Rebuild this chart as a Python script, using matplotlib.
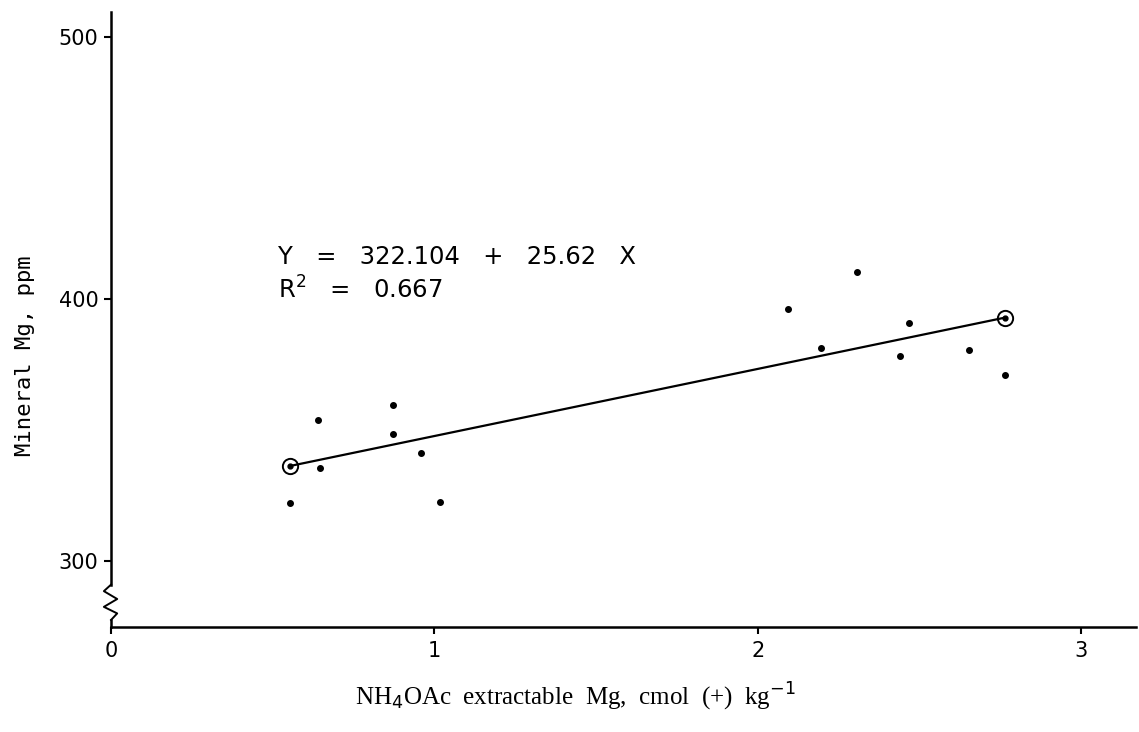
import matplotlib
matplotlib.use('Agg')
import matplotlib.pyplot as plt

# NH4OAc extractable Mg (cmol(+)/kg) vs mineral Mg (ppm)
nh4_mg = [0.553, 0.640, 0.645, 0.872, 0.873, 0.957, 1.016,
          2.093, 2.194, 2.306, 2.441, 2.467, 2.654, 2.765]
mineral_mg = [322.3, 353.8, 335.6, 348.5, 359.4, 341.4, 322.4,
              396.1, 381.5, 410.2, 378.3, 390.9, 380.6, 371.0]

# ends of the fitted line, marked with circles
fit_x = [0.554, 2.763]
intercept = 322.104
slope = 25.62
r2 = 0.667

fit_y = [intercept + slope * v for v in fit_x]

fig = plt.figure(figsize=(11.39, 7.32), dpi=100)
ax = fig.add_axes([0.0975, 0.1434, 0.9, 0.8402])

ax.plot(nh4_mg, mineral_mg, 'o', color='black', markersize=4, clip_on=False)
ax.plot(fit_x, fit_y, '-', color='black', lw=1.6)
ax.plot(fit_x, fit_y, 'o', mfc='none', mec='black', markersize=11, mew=1.4)
ax.plot(fit_x, fit_y, 'o', color='black', markersize=3.5)

ax.set_xlim(0, 3.17)
ax.set_ylim(274.8, 509.6)

for s in ['top', 'right', 'left']:
    ax.spines[s].set_visible(False)
ax.spines['bottom'].set_linewidth(1.8)

# left axis with a break near the bottom
yt = ax.get_yaxis_transform()
ax.plot([0, 0], [509.6, 291.0], color='black', lw=1.8, transform=yt, clip_on=False)
zz_x = [0, -0.007, 0.006, -0.007, 0.006, 0]
zz_y = [291.0, 288.5, 285.5, 282.5, 280.0, 277.5]
ax.plot(zz_x, zz_y, color='black', lw=1.4, transform=yt, clip_on=False)
ax.plot([0, 0], [277.5, 274.8], color='black', lw=1.8, transform=yt, clip_on=False)

ax.set_xticks([0, 1, 2, 3])
ax.set_yticks([300, 400, 500])
ax.tick_params(axis='both', direction='out', length=5, width=1.5, labelsize=15)
ax.tick_params(axis='x', pad=5)
ax.tick_params(axis='y', pad=4)

ax.set_xlabel(r'NH$_4$OAc  extractable  Mg,  cmol  (+)  kg$^{-1}$',
              fontsize=18, family='Liberation Serif')
ax.xaxis.set_label_coords(0.453, -0.088)
ax.set_ylabel('Mineral Mg, ppm', fontsize=16, family='DejaVu Sans Mono')
ax.yaxis.set_label_coords(-0.074, 0.442)

ax.text(0.515, 416.0, 'Y   =   %.3f   +   %.2f   X' % (intercept, slope),
        fontsize=17.5, va='center', ha='left')
ax.text(0.515, 403.5, r'R$^2$   =   %.3f' % r2,
        fontsize=17.5, va='center', ha='left')

plt.savefig('out.png', dpi=100)
